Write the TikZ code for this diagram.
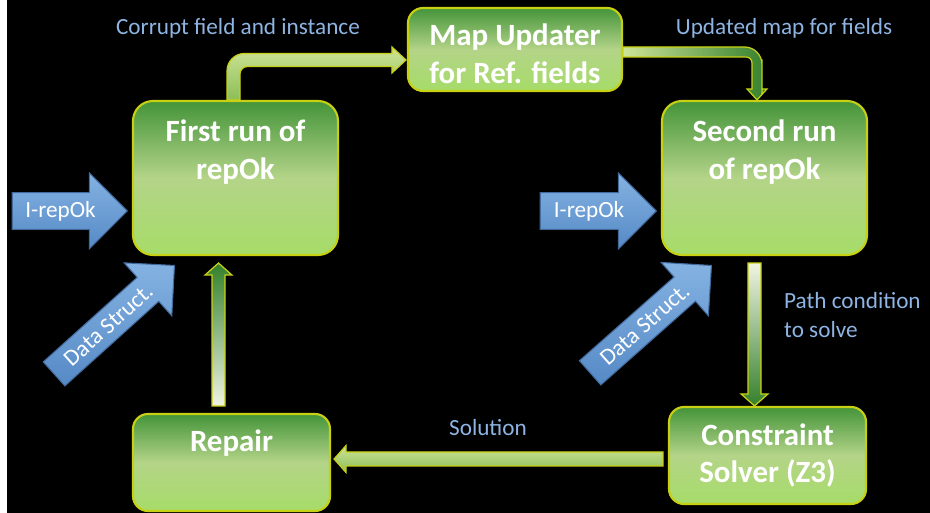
\documentclass[tikz,border=0pt]{standalone}
\usepackage{fontspec}
\setmainfont{Carlito}
\usetikzlibrary{shapes.arrows,calc}

\definecolor{boxtop}{RGB}{68,148,58}
\definecolor{boxmid}{RGB}{180,212,136}
\definecolor{boxbot}{RGB}{166,220,104}
\definecolor{boxline}{RGB}{200,208,20}
\definecolor{lbltext}{RGB}{142,180,227}
\definecolor{bluetop}{RGB}{132,178,226}
\definecolor{bluebot}{RGB}{86,138,198}
\definecolor{blueline}{RGB}{66,106,156}
\definecolor{pipedark}{RGB}{52,128,44}
\definecolor{pipewhite}{RGB}{240,244,226}
\definecolor{pipelight}{RGB}{206,228,152}
\definecolor{pipemid}{RGB}{140,190,86}

\begin{document}
\begin{tikzpicture}[
  box/.style={draw=boxline, line width=1.2pt, rounded corners=0.4cm,
    top color=boxtop, bottom color=boxbot, middle color=boxmid,
    minimum width=4.1cm, minimum height=3.08cm, inner sep=0pt,
    text=white, align=center, font=\bfseries\fontsize{17.6}{21.6}\selectfont},
  boxtext/.style={text=white, align=center, font=\bfseries\fontsize{17.6}{21.6}\selectfont},
  lbl/.style={text=lbltext, font=\fontsize{13.2}{17}\selectfont},
  bluearrow/.style={single arrow, draw=blueline, line width=0.6pt,
    top color=bluetop, bottom color=bluebot, text=white,
    single arrow head extend=0.39cm, inner ysep=0.16cm, inner xsep=0.1cm,
    font=\fontsize{13.2}{15}\selectfont},
  pipe/.style={draw=boxline, line width=0.7pt}
]

\useasboundingbox (0,0) rectangle (18.6,10.26);
\fill[black] (0.14,0) rectangle (18.6,10.26);

% boxes
\node[box] (first) at (4.71,6.7) {};
\node[boxtext] (firsttxt) at ($(first.center)+(0,0.51)$) {First run of\\repOk};

\node[box, minimum width=4.28cm, minimum height=1.66cm, rounded corners=0.3cm] (mapupd) at (10.3,9.27) {};
\node[boxtext] (mapupdtxt) at ($(mapupd.center)+(0,-0.08)$) {Map Updater\\for Ref. fields};

\node[box] (second) at (15.29,6.7) {};
\node[boxtext] (secondtxt) at ($(second.center)+(0,0.51)$) {Second run\\of repOk};

\node[box, minimum width=3.94cm, minimum height=1.94cm, rounded corners=0.3cm] (repair) at (4.63,1.01) {};
\node[boxtext] (repairtxt) at ($(repair.center)+(0,0.39)$) {Repair};

\node[box, minimum width=3.94cm, minimum height=1.94cm, rounded corners=0.3cm] (solver) at (15.35,1.15)
{Constraint\\Solver (Z3)};

% inputs
\node[bluearrow, minimum height=2.3cm, anchor=tip] (irep1) at (2.56,6.04) {I-repOk};
\node[bluearrow, minimum height=2.32cm, anchor=tip] (irep2) at (13.14,6.04) {I-repOk};
\node[bluearrow, minimum height=3.24cm, rotate=42, anchor=tip] (data1) at (3.5,4.96) {Data Struct.};
\node[bluearrow, minimum height=3.24cm, rotate=41.5, anchor=tip] (data2) at (14.24,4.96) {Data Struct.};

% labels
\node[lbl] (lblcorrupt) at (4.76,9.7) {Corrupt field and instance};
\node[lbl] (lblupdated) at (15.68,9.7) {Updated map for fields};
\node[lbl, anchor=west, align=left] (lblpath) at (15.56,3.96) {Path condition\\to solve};
\node[lbl] (lblsolution) at (9.76,1.7) {Solution};

% First run -> Map Updater
\coordinate (fm0) at ($(first.north)+(-0.04,0)$);
\coordinate (fm2) at ($(mapupd.west)+(-0.02,-0.21)$);
\coordinate (fm1) at (fm0 |- fm2);
\draw[pipe, top color=pipelight, bottom color=pipemid]
  ($(fm0)+(-0.13,0)$) -- ($(fm0)+(-0.13,0.4)$) [rounded corners=0.35cm]
  -- ($(fm1)+(-0.13,0.13)$) -- ($(fm1)+(1.2,0.13)$) [sharp corners]
  -- ($(fm2)+(-0.28,0.13)$) -- ($(fm2)+(-0.28,0.26)$) -- (fm2)
  -- ($(fm2)+(-0.28,-0.26)$) -- ($(fm2)+(-0.28,-0.13)$)
  -- ($(fm1)+(1.2,-0.13)$) [rounded corners=0.15cm]
  -- ($(fm1)+(0.13,-0.13)$) -- ($(fm0)+(0.13,0.4)$) [sharp corners]
  -- ($(fm0)+(0.13,0)$) -- cycle;

% Map Updater -> Second run
\coordinate (ms0) at ($(mapupd.east)+(0,-0.05)$);
\coordinate (ms2) at ($(second.north)+(-0.15,0)$);
\coordinate (ms1) at (ms0 -| ms2);
\draw[pipe, left color=pipelight, right color=pipedark]
  ($(ms0)+(0,0.1)$) -- ($(ms1)+(-1.0,0.1)$) [rounded corners=0.35cm]
  -- ($(ms1)+(0.1,0.1)$) -- ($(ms1)+(0.1,-0.5)$) [sharp corners]
  -- ($(ms2)+(0.1,0.22)$) -- ($(ms2)+(0.2,0.22)$) -- (ms2)
  -- ($(ms2)+(-0.2,0.22)$) -- ($(ms2)+(-0.1,0.22)$)
  -- ($(ms1)+(-0.1,-0.5)$) [rounded corners=0.12cm]
  -- ($(ms1)+(-0.1,-0.1)$) -- ($(ms1)+(-1.0,-0.1)$) [sharp corners]
  -- ($(ms0)+(0,-0.1)$) -- cycle;

% Second run -> Constraint Solver
\coordinate (ss0) at ($(second.south)+(-0.2,-0.14)$);
\coordinate (ss1) at (ss0 |- solver.north);
\draw[pipe, top color=pipewhite, bottom color=pipedark]
  ($(ss0)+(-0.13,0)$) -- ($(ss1)+(-0.13,0.24)$) -- ($(ss1)+(-0.27,0.24)$) -- (ss1)
  -- ($(ss1)+(0.27,0.24)$) -- ($(ss1)+(0.13,0.24)$) -- ($(ss0)+(0.13,0)$) -- cycle;

% Constraint Solver -> Repair
\coordinate (sr0) at ($(solver.west)+(-0.1,-0.07)$);
\coordinate (sr1) at ($(sr0 -| repair.east)+(0.06,0)$);
\draw[pipe, top color=pipelight, bottom color=pipemid]
  ($(sr0)+(0,0.14)$) -- ($(sr1)+(0.24,0.14)$) -- ($(sr1)+(0.24,0.27)$) -- (sr1)
  -- ($(sr1)+(0.24,-0.27)$) -- ($(sr1)+(0.24,-0.14)$) -- ($(sr0)+(0,-0.14)$) -- cycle;

% Repair -> First run
\coordinate (rf0) at ($(repair.north)+(-0.26,0.14)$);
\coordinate (rf1) at ($(rf0 |- first.south)+(0,-0.14)$);
\draw[pipe, bottom color=pipewhite, top color=pipedark]
  ($(rf0)+(-0.13,0)$) -- ($(rf1)+(-0.13,-0.24)$) -- ($(rf1)+(-0.27,-0.24)$) -- (rf1)
  -- ($(rf1)+(0.27,-0.24)$) -- ($(rf1)+(0.13,-0.24)$) -- ($(rf0)+(0.13,0)$) -- cycle;

\end{tikzpicture}
\end{document}
